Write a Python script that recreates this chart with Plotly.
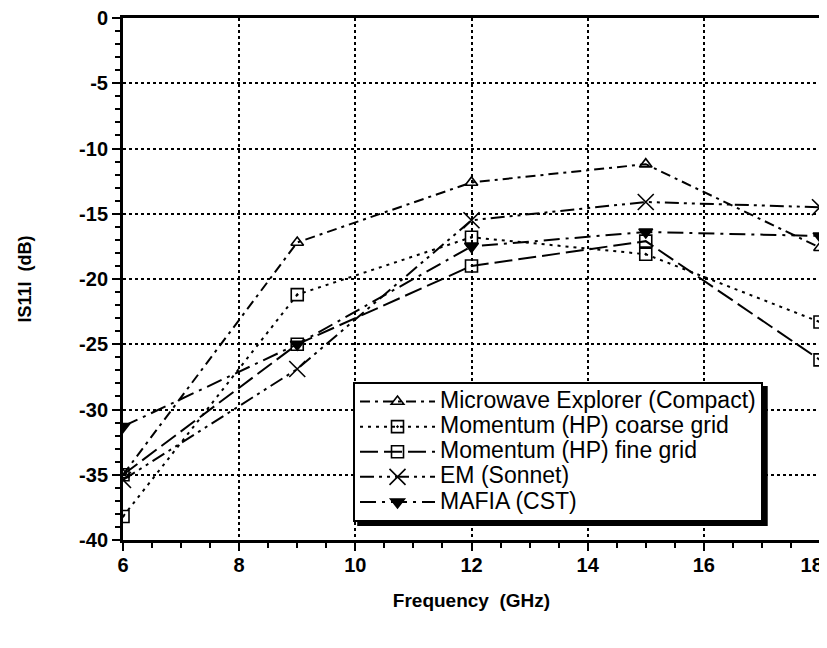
import plotly.graph_objects as go

freq = [6, 9, 12, 15, 18]
mwe_compact = [-35.0, -17.2, -12.6, -11.2, -17.6]
momentum_coarse = [-38.2, -21.2, -16.8, -18.1, -23.3]
momentum_fine = [-35.0, -25.0, -19.0, -17.1, -26.2]
em_sonnet = [-35.4, -26.9, -15.5, -14.1, -14.5]
mafia_cst = [-31.3, -25.0, -17.5, -16.4, -16.7]

x_ticks = [6, 8, 10, 12, 14, 16, 18]
y_ticks = [0, -5, -10, -15, -20, -25, -30, -35, -40]

names = ["Microwave Explorer (Compact)", "Momentum (HP) coarse grid",
         "Momentum (HP) fine grid", "EM (Sonnet)", "MAFIA (CST)"]
series = [mwe_compact, momentum_coarse, momentum_fine, em_sonnet, mafia_cst]
dashes = ["10px,5px,3px,5px", "3px,5px", "18px,6px", "14px,5px,3px,5px,3px,5px", "16px,6px,3px,6px"]
symbols = ["triangle-up-open", "square-open-dot", "square-open", "x-thin-open", "triangle-down"]
msizes = [11, 12, 12, 16, 12]

fig = go.Figure()
for nm, ys, d, s, ms in zip(names, series, dashes, symbols, msizes):
    fig.add_trace(go.Scatter(
        x=freq, y=ys, mode="lines+markers",
        name=f"<span style='font-size:23px'>{nm}</span>",
        line=dict(color="black", width=2, dash=d),
        marker=dict(symbol=s, size=ms, color="black",
                    line=dict(color="black", width=1.6)),
    ))

font_family = "Liberation Sans, Arial, sans-serif"

x_text = [f"<b>{v}</b>" for v in x_ticks]
x_text[-1] = x_text[-1] + "\u00a0\u00a0\u00a0"

fig.update_layout(
    width=827, height=648,
    margin=dict(l=115, r=15, t=10, b=116),
    paper_bgcolor="white", plot_bgcolor="white",
    font=dict(family=font_family, color="black"),
    showlegend=True,
    legend=dict(
        x=0.33, y=0.3027, xanchor="left", yanchor="top",
        bgcolor="white", bordercolor="black", borderwidth=2,
        font=dict(size=17, family=font_family, color="black"),
        itemwidth=75, tracegroupgap=0,
    ),
    shapes=[dict(type="rect", xref="paper", yref="paper",
                 x0=0.336, x1=0.925, y0=0.027, y1=0.295,
                 fillcolor="black", line=dict(width=0), layer="above")],
)

fig.update_xaxes(
    range=[6, 18], tickvals=x_ticks, ticktext=x_text,
    automargin=False, ticklabeloverflow="allow", ticklabelstandoff=-3,
    showline=True, linecolor="black", linewidth=3, mirror=True,
    ticks="outside", ticklen=8, tickwidth=2, tickcolor="black",
    minor=dict(dtick=0.5, tick0=6, ticks="outside", ticklen=5, tickwidth=1.5, tickcolor="black", showgrid=False),
    showgrid=True, gridcolor="black", gridwidth=1.5, griddash="dot",
    tickfont=dict(size=20, family=font_family, color="black", weight="bold"),
    title=dict(text="<b>Frequency  (GHz)</b>", font=dict(size=19, family=font_family), standoff=19),
    zeroline=False,
)
fig.update_yaxes(
    range=[-40, 0], tickvals=y_ticks, ticktext=[f"<b>{v}</b>" for v in y_ticks],
    automargin=False, ticklabeloverflow="allow",
    showline=True, linecolor="black", linewidth=3, mirror=True,
    ticks="outside", ticklen=8, tickwidth=2, tickcolor="black",
    minor=dict(dtick=1, tick0=0, ticks="outside", ticklen=5, tickwidth=1.5, tickcolor="black", showgrid=False),
    showgrid=True, gridcolor="black", gridwidth=1.5, griddash="dot",
    tickfont=dict(size=20, family=font_family, color="black", weight="bold"),
    title=dict(text="<b>IS11I  (dB)</b>", font=dict(size=18, family=font_family), standoff=43),
    zeroline=False,
)

fig.write_html("out.html")
